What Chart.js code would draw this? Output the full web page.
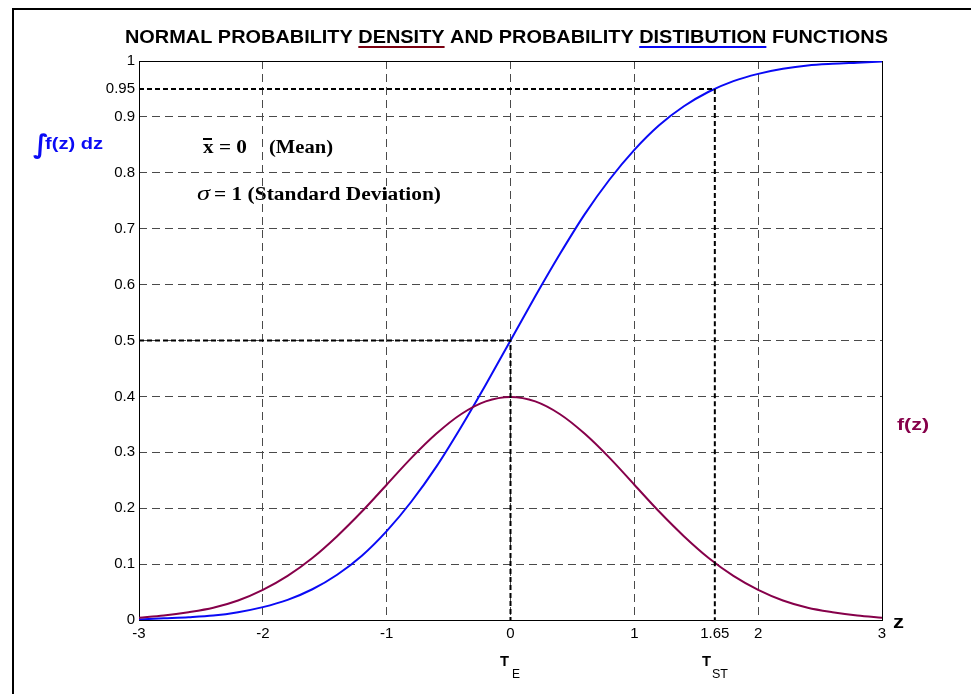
<!DOCTYPE html>
<html>
<head>
<meta charset="utf-8">
<style>
  body { margin: 0; background: #fff; }
  #wrap { width: 971px; height: 694px; }
</style>
</head>
<body>
<div id="wrap"><canvas id="myChart" width="971" height="694"></canvas></div>

<script src="https://cdn.jsdelivr.net/npm/chart.js"></script>
<script>

// values
const zValues = [-3, -2.8, -2.6, -2.4, -2.2, -2, -1.8, -1.6, -1.4, -1.2, -1, -0.8, -0.6, -0.4, -0.2, 0,
                 0.2, 0.4, 0.6, 0.8, 1, 1.2, 1.4, 1.6, 1.8, 2, 2.2, 2.4, 2.6, 2.8, 3]
const densityValues = [0.004, 0.008, 0.014, 0.022, 0.035, 0.054, 0.079, 0.111, 0.150, 0.194, 0.242, 0.290, 0.333, 0.368, 0.391, 0.399,
                       0.391, 0.368, 0.333, 0.290, 0.242, 0.194, 0.150, 0.111, 0.079, 0.054, 0.035, 0.022, 0.014, 0.008, 0.004]
const distributionValues = [0.001, 0.003, 0.005, 0.008, 0.014, 0.023, 0.036, 0.055, 0.081, 0.115, 0.159, 0.212, 0.274, 0.345, 0.421, 0.500,
                            0.579, 0.655, 0.726, 0.788, 0.841, 0.885, 0.919, 0.945, 0.964, 0.977, 0.986, 0.992, 0.995, 0.997, 0.999]

const xTicks = [-3, -2, -1, 0, 1, 1.65, 2, 3]
const yTicks = [0, 0.1, 0.2, 0.3, 0.4, 0.5, 0.6, 0.7, 0.8, 0.9, 0.95, 1]
const xGrid = [-2, -1, 0, 1, 2]
const yGrid = [0.1, 0.2, 0.3, 0.4, 0.5, 0.6, 0.7, 0.8, 0.9]

// dashed guide lines: 95% point and mean
const guide95X = [-3, 1.65, 1.65]
const guide95Y = [0.95, 0.95, 0]
const guideMeanX = [-3, 0, 0]
const guideMeanY = [0.5, 0.5, 0]

const blue = '#0a0af5'
const maroon = '#86004a'
const gridGray = '#4a4a4a'

function toPoints(xs, ys) {
    return xs.map((x, i) => ({x: x, y: ys[i]}))
}

// draws text squeezed/stretched to a given width, like the original export
function fitText(ctx, text, font, x, y, width, color) {
    ctx.save()
    ctx.font = font
    ctx.fillStyle = color || '#000'
    ctx.textBaseline = 'alphabetic'
    ctx.textAlign = 'left'
    const k = width / ctx.measureText(text).width
    ctx.translate(x, y)
    ctx.scale(k, 1)
    ctx.fillText(text, 0, 0)
    ctx.restore()
}

function drawTitle(ctx) {
    const parts = [
        ['NORMAL PROBABILITY ', null],
        ['DENSITY', '#7a0010'],
        [' AND PROBABILITY ', null],
        ['DISTIBUTION', blue],
        [' FUNCTIONS', null]
    ]
    ctx.save()
    ctx.font = 'bold 18px "Liberation Sans"'
    ctx.fillStyle = '#000'
    const full = parts.map(p => p[0]).join('')
    const k = 763 / ctx.measureText(full).width
    let x = 125
    parts.forEach(([t, c]) => {
        const w = ctx.measureText(t).width * k
        ctx.save()
        ctx.translate(x, 43)
        ctx.scale(k, 1)
        ctx.fillText(t, 0, 0)
        ctx.restore()
        if (c) {
            ctx.fillStyle = c
            ctx.fillRect(x, 46, w, 2)
            ctx.fillStyle = '#000'
        }
        x += w
    })
    ctx.restore()
}

const textPlugin = {
    id: 'texts',
    beforeDraw(chart) {
        const ctx = chart.ctx
        ctx.save()
        ctx.fillStyle = '#fff'
        ctx.fillRect(0, 0, chart.width, chart.height)
        // outer frame
        ctx.fillStyle = '#000'
        ctx.fillRect(12, 8, chart.width - 12, 2)
        ctx.fillRect(12, 8, 2, chart.height - 8)
        ctx.restore()

        drawTitle(ctx)

        // left label, integral of f(z)
        ctx.save()
        ctx.fillStyle = blue
        ctx.font = 'bold 26px "DejaVu Sans"'
        ctx.fillText('\u222B', 33, 153)
        ctx.restore()
        fitText(ctx, 'f(z) dz', 'bold 17px "Liberation Sans"', 45, 149, 58, blue)

        // mean and sigma
        fitText(ctx, 'x = 0', 'bold 18px "Liberation Serif"', 203, 153, 44)
        ctx.fillStyle = '#000'
        ctx.fillRect(203, 138, 9, 2)
        fitText(ctx, '(Mean)', 'bold 18px "Liberation Serif"', 269, 153, 64)
        fitText(ctx, '\u03C3', 'italic 21px "Liberation Serif"', 197, 200, 13)
        fitText(ctx, '= 1 (Standard Deviation)', 'bold 18px "Liberation Serif"', 214, 200, 227)

        // right label and axis name
        fitText(ctx, 'f(z)', 'bold 17px "Liberation Sans"', 897, 430, 32, maroon)
        fitText(ctx, 'z', 'bold 19px "Liberation Sans"', 893, 628, 11)

        // T_E and T_ST below the axis
        fitText(ctx, 'T', 'bold 15px "Liberation Sans"', 500, 666, 9)
        fitText(ctx, 'E', '13px "Liberation Sans"', 512, 678, 8)
        fitText(ctx, 'T', 'bold 15px "Liberation Sans"', 702, 666, 9)
        fitText(ctx, 'ST', '13px "Liberation Sans"', 712, 678, 16)
    },
    beforeDatasetsDraw(chart) {
        const a = chart.chartArea
        const ctx = chart.ctx
        ctx.save()
        ctx.strokeStyle = '#000'
        ctx.lineWidth = 1
        ctx.strokeRect(a.left + 0.5, a.top + 0.5, a.right - a.left, a.bottom - a.top)
        ctx.restore()
    }
}

function gridColor(list) {
    return (c) => (c.tick && list.includes(c.tick.value)) ? gridGray : 'rgba(0,0,0,0)'
}

const ctx = document.getElementById('myChart')

new Chart(ctx, {
    type: 'scatter',
    data: {
        datasets: [
            {
                label: 'guide 95',
                data: toPoints(guide95X, guide95Y),
                showLine: true,
                borderColor: '#000',
                borderWidth: 2,
                borderDash: [5, 3],
                pointRadius: 0,
                tension: 0,
                order: 0
            },
            {
                label: 'guide mean',
                data: toPoints(guideMeanX, guideMeanY),
                showLine: true,
                borderColor: '#000',
                borderWidth: 2,
                borderDash: [5, 3],
                pointRadius: 0,
                tension: 0,
                order: 0
            },
            {
                label: 'distribution',
                data: toPoints(zValues, distributionValues),
                showLine: true,
                borderColor: blue,
                borderWidth: 2,
                pointRadius: 0,
                cubicInterpolationMode: 'monotone',
                order: 2
            },
            {
                label: 'density',
                data: toPoints(zValues, densityValues),
                showLine: true,
                borderColor: maroon,
                borderWidth: 2,
                pointRadius: 0,
                cubicInterpolationMode: 'monotone',
                order: 1
            }
        ]
    },
    options: {
        responsive: false,
        animation: false,
        layout: { padding: { left: 0, top: 61, right: 89, bottom: 0 } },
        plugins: {
            legend: { display: false },
            tooltip: { enabled: false }
        },
        scales: {
            x: {
                type: 'linear',
                min: -3,
                max: 3,
                afterBuildTicks: (s) => { s.ticks = xTicks.map(v => ({value: v})) },
                afterFit: (s) => { s.height = 74 },
                ticks: {
                    color: '#000',
                    font: { family: 'Liberation Sans', size: 15 },
                    padding: 5,
                    maxRotation: 0,
                    autoSkip: false,
                    callback: (v) => String(v)
                },
                grid: { color: gridColor(xGrid), lineWidth: 1, drawTicks: false },
                border: { display: false, dash: [8, 5] }
            },
            y: {
                type: 'linear',
                min: 0,
                max: 1,
                afterBuildTicks: (s) => { s.ticks = yTicks.map(v => ({value: v})) },
                afterFit: (s) => { s.width = 139 },
                ticks: {
                    color: '#000',
                    font: { family: 'Liberation Sans', size: 15 },
                    padding: 4,
                    autoSkip: false,
                    callback: (v) => String(v)
                },
                grid: { color: gridColor(yGrid), lineWidth: 1, drawTicks: false },
                border: { display: false, dash: [8, 5] }
            }
        }
    },
    plugins: [textPlugin]
});
</script>
</body>
</html>
